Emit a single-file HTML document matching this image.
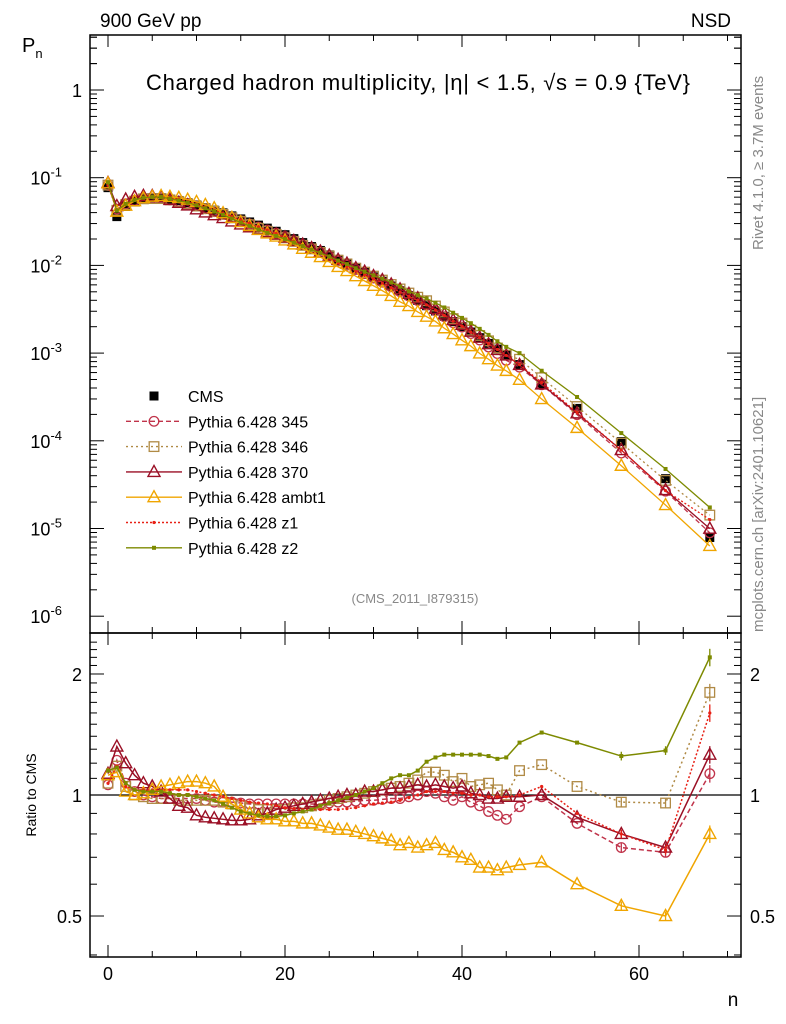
<!DOCTYPE html>
<html><head><meta charset="utf-8"><style>
body{margin:0;background:#fff;}
svg{display:block;font-family:"Liberation Sans",sans-serif;}
</style></head><body>
<svg id="c" width="786" height="1024" viewBox="0 0 786 1024" xmlns="http://www.w3.org/2000/svg">
<text x="100" y="27" font-size="19">900 GeV pp</text>
<text x="731" y="27" font-size="19" text-anchor="end">NSD</text>
<text x="22" y="52" font-size="20">P<tspan font-size="13" dy="6">n</tspan></text>
<text x="418" y="90" font-size="22" text-anchor="middle" textLength="544">Charged hadron multiplicity, |η| &lt; 1.5, √s = 0.9 {TeV}</text>
<text x="415" y="603" font-size="13" fill="#888" text-anchor="middle">(CMS_2011_I879315)</text>
<text transform="translate(763,250) rotate(-90)" font-size="15" fill="#888">Rivet 4.1.0, ≥ 3.7M events</text>
<text transform="translate(763,632) rotate(-90)" font-size="15" fill="#888">mcplots.cern.ch [arXiv:2401.10621]</text>
<text transform="translate(36,795) rotate(-90)" font-size="14" text-anchor="middle">Ratio to CMS</text>
<text x="733" y="1006" font-size="19" text-anchor="middle">n</text>
<g id="g"></g>
</svg>
<script>
const nVals=[0,1,2,3,4,5,6,7,8,9,10,11,12,13,14,15,16,17,18,19,20,21,22,23,24,25,26,27,28,29,30,31,32,33,34,35,36,37,38,39,40,41,42,43,44,45,46.5,49,53,58,63,68];
const cmsVals=[0.077,0.036,0.047,0.054,0.058,0.059,0.059,0.057,0.055,0.052,0.049,0.0457,0.0427,0.0398,0.0367,0.0339,0.0313,0.0288,0.0266,0.0245,0.0224,0.0202,0.0182,0.0164,0.0148,0.0132,0.0117,0.0105,0.0093,0.0083,0.0074,0.0066,0.00582,0.00513,0.00452,0.00398,0.00347,0.00302,0.00263,0.00229,0.0020,0.00174,0.0015,0.00129,0.00111,0.00095,0.00074,0.00044,0.000234,0.000098,0.000037,0.0000079];
const r345=[1.06,1.22,1.07,1.02,1.0,0.99,0.98,0.98,0.98,0.98,0.98,0.97,0.96,0.96,0.96,0.955,0.95,0.95,0.95,0.95,0.95,0.95,0.95,0.95,0.95,0.955,0.96,0.96,0.965,0.97,0.97,0.975,0.98,0.98,0.99,1.0,1.02,1.01,0.99,0.97,0.99,0.96,0.94,0.91,0.89,0.87,0.935,0.99,0.85,0.74,0.72,1.13];
const r346=[1.07,1.18,1.05,1.0,0.99,0.98,0.98,0.98,0.97,0.97,0.97,0.97,0.97,0.96,0.95,0.94,0.93,0.92,0.92,0.92,0.92,0.93,0.93,0.94,0.95,0.97,0.98,0.99,1.0,1.01,1.02,1.03,1.04,1.05,1.07,1.09,1.14,1.14,1.12,1.08,1.10,1.05,1.06,1.07,1.03,1.0,1.15,1.19,1.05,0.96,0.955,1.8];
const r370=[1.13,1.32,1.2,1.12,1.07,1.05,1.02,0.98,0.94,0.93,0.89,0.88,0.875,0.87,0.865,0.865,0.87,0.89,0.9,0.92,0.93,0.94,0.95,0.96,0.97,0.98,0.99,1.0,1.0,1.02,1.02,1.03,1.04,1.04,1.05,1.06,1.05,1.06,1.05,1.04,1.05,1.01,1.0,0.98,0.98,0.99,0.99,1.0,0.88,0.8,0.74,1.26];
const rAmbt1=[1.12,1.14,1.02,1.0,1.01,1.03,1.05,1.06,1.07,1.08,1.08,1.07,1.05,0.99,0.95,0.92,0.9,0.88,0.87,0.87,0.86,0.86,0.85,0.85,0.84,0.83,0.82,0.82,0.81,0.8,0.79,0.78,0.77,0.75,0.76,0.74,0.75,0.76,0.73,0.72,0.7,0.69,0.66,0.66,0.65,0.66,0.67,0.68,0.6,0.53,0.5,0.8];
const rZ1=[1.07,1.18,1.05,1.03,1.03,1.03,1.03,1.03,1.03,1.03,1.02,1.01,1.0,0.99,0.98,0.97,0.96,0.955,0.95,0.94,0.93,0.925,0.92,0.92,0.92,0.92,0.92,0.925,0.93,0.94,0.95,0.955,0.96,0.97,0.985,1.0,1.02,1.02,1.02,1.01,1.01,1.0,1.0,0.99,0.99,0.99,1.0,1.05,0.9,0.8,0.73,1.6];
const rZ2=[1.15,1.17,1.07,1.03,1.02,1.02,1.02,1.01,1.0,1.0,0.99,0.98,0.97,0.95,0.93,0.91,0.9,0.89,0.885,0.885,0.89,0.9,0.91,0.92,0.94,0.955,0.97,0.985,1.0,1.02,1.04,1.07,1.1,1.12,1.12,1.15,1.21,1.24,1.26,1.26,1.26,1.26,1.26,1.25,1.23,1.24,1.35,1.43,1.35,1.25,1.29,2.2];
const xTicks=[0,20,40,60];
const mainTicks=[0,-1,-2,-3,-4,-5,-6];
const ratioTicks=[0.5,1,2];

const L=90,R=741,T=35,M=633,B=957;
const X=n=>108+n*8.85;
const Ym=v=>90-87.7*Math.log10(v);
const Yr=r=>795-402*Math.log10(r);
const NS="http://www.w3.org/2000/svg";
const g=document.getElementById('g');
function el(t,a,p){const e=document.createElementNS(NS,t);for(const k in a)e.setAttribute(k,a[k]);(p||g).appendChild(e);return e;}

let f1=el('rect',{x:L,y:T,width:R-L,height:M-T,fill:'none',stroke:'#000','stroke-width':1.5});


let f2=el('rect',{x:L,y:M,width:R-L,height:B-M,fill:'none',stroke:'#000','stroke-width':1.5});


let one=el('line',{x1:L,x2:R,y1:Yr(1),y2:Yr(1),stroke:'#000','stroke-width':1.3});



for(let n=0;n<=70;n+=5){const maj=n%20==0;const l=maj?12:6;
 for(const [y0,d] of [[T,1],[M,-1],[M,1],[B,-1]]){el('line',{x1:X(n),x2:X(n),y1:y0,y2:y0+d*l,stroke:'#000','stroke-width':1});}}
xTicks.forEach(t=>{const tx=el('text',{x:X(t),y:980,'font-size':18,'text-anchor':'middle'});tx.textContent=t;
 
 });
mainTicks.forEach(p=>{const y=Ym(Math.pow(10,p));
 el('line',{x1:L,x2:L+14,y1:y,y2:y,stroke:'#000'});el('line',{x1:R,x2:R-14,y1:y,y2:y,stroke:'#000'});
 for(let k=2;k<=9;k++){const yy=Ym(k*Math.pow(10,p));if(yy<T)continue;
  el('line',{x1:L,x2:L+7,y1:yy,y2:yy,stroke:'#000'});el('line',{x1:R,x2:R-7,y1:yy,y2:yy,stroke:'#000'});}
 const tx=el('text',{x:p==0?82:62,y:y+7,'font-size':18,'text-anchor':'end'});
 
 
 if(p==0)tx.textContent='1';else{tx.textContent='10';const s=el('tspan',{dy:-8,'font-size':13},tx);s.textContent=p;}
});
for(let k=2;k<=4;k++){const yy=Ym(k);el('line',{x1:L,x2:L+7,y1:yy,y2:yy,stroke:'#000'});el('line',{x1:R,x2:R-7,y1:yy,y2:yy,stroke:'#000'});}
for(let r=0.4;r<=2.5;r+=0.1){const rr=Math.round(r*10)/10;const y=Yr(rr);if(y<M||y>B)continue;
 const maj=ratioTicks.includes(rr);const l=maj?14:7;
 el('line',{x1:L,x2:L+l,y1:y,y2:y,stroke:'#000'});el('line',{x1:R,x2:R-l,y1:y,y2:y,stroke:'#000'});}
ratioTicks.forEach(r=>{const y=Yr(r)+7;
 const a=el('text',{x:82,y:y,'font-size':18,'text-anchor':'end'});a.textContent=r;
 
 
 const b=el('text',{x:750,y:y,'font-size':18});b.textContent=r;
 
 });

function marker(type,c,x,y,par){
 if(type=='circle')el('circle',{cx:x,cy:y,r:4.8,fill:'none',stroke:c,'stroke-width':1.3},par);
 else if(type=='square')el('rect',{x:x-4.8,y:y-4.8,width:9.6,height:9.6,fill:'none',stroke:c,'stroke-width':1.3},par);
 else if(type=='tri')el('path',{d:`M${x},${y-6.5}L${x+6},${y+4.5}L${x-6},${y+4.5}Z`,fill:'none',stroke:c,'stroke-width':1.4},par);
 else if(type=='dot')el('circle',{cx:x,cy:y,r:1.6,fill:c},par);
 else if(type=='sq')el('rect',{x:x-2,y:y-2,width:4,height:4,fill:c},par);
 else if(type=='cms')el('rect',{x:x-4.5,y:y-4.5,width:9,height:9,fill:'#000'},par);
}
const gc=el('g',{});

nVals.forEach((n,i)=>marker('cms','#000',X(n),Ym(cmsVals[i]),gc));

const series=[
 {name:'pythia-345',label:'Pythia 6.428 345',r:r345,c:'#c0334a',m:'circle',dash:'5,3'},
 {name:'pythia-346',label:'Pythia 6.428 346',r:r346,c:'#b08a45',m:'square',dash:'2,3'},
 {name:'pythia-370',label:'Pythia 6.428 370',r:r370,c:'#9a0f25',m:'tri',dash:''},
 {name:'pythia-ambt1',label:'Pythia 6.428 ambt1',r:rAmbt1,c:'#f0a500',m:'tri',dash:''},
 {name:'pythia-z1',label:'Pythia 6.428 z1',r:rZ1,c:'#e82015',m:'dot',dash:'2,2'},
 {name:'pythia-z2',label:'Pythia 6.428 z2',r:rZ2,c:'#7d8a00',m:'sq',dash:''}
];
series.forEach(s=>{
 const gm=el('g',{});
 
 const gr=el('g',{});
 
 let pm='',pr='';
 nVals.forEach((n,i)=>{const v=cmsVals[i]*s.r[i];pm+=(i?'L':'M')+X(n)+','+Ym(v);pr+=(i?'L':'M')+X(n)+','+Yr(s.r[i]);});
 el('path',{d:pm,fill:'none',stroke:s.c,'stroke-width':1.3,'stroke-dasharray':s.dash},gm);
 el('path',{d:pr,fill:'none',stroke:s.c,'stroke-width':1.5,'stroke-dasharray':s.dash},gr);
 nVals.forEach((n,i)=>{marker(s.m,s.c,X(n),Ym(cmsVals[i]*s.r[i]),gm);
  const y=Yr(s.r[i]);
  if(n>=58){const e=s.r[i]*(n>=68?0.05:0.025);el('line',{x1:X(n),x2:X(n),y1:Yr(s.r[i]+e),y2:Yr(s.r[i]-e),stroke:s.c,'stroke-width':1.3},gr);}
  marker(s.m,s.c,X(n),y,gr);});
});

const lg=el('g',{});

const ly0=396,dy=25.3;
marker('cms','#000',154,ly0,lg);
let t0=el('text',{x:188,y:ly0+6,'font-size':16},lg);t0.textContent='CMS';
series.forEach((s,i)=>{const y=ly0+dy*(i+1);
 el('line',{x1:126,x2:182,y1:y,y2:y,stroke:s.c,'stroke-width':1.4,'stroke-dasharray':s.dash},lg);
 marker(s.m,s.c,154,y,lg);
 const t=el('text',{x:188,y:y+6,'font-size':16},lg);t.textContent=s.label;
 
 
});
</script>
</body></html>
